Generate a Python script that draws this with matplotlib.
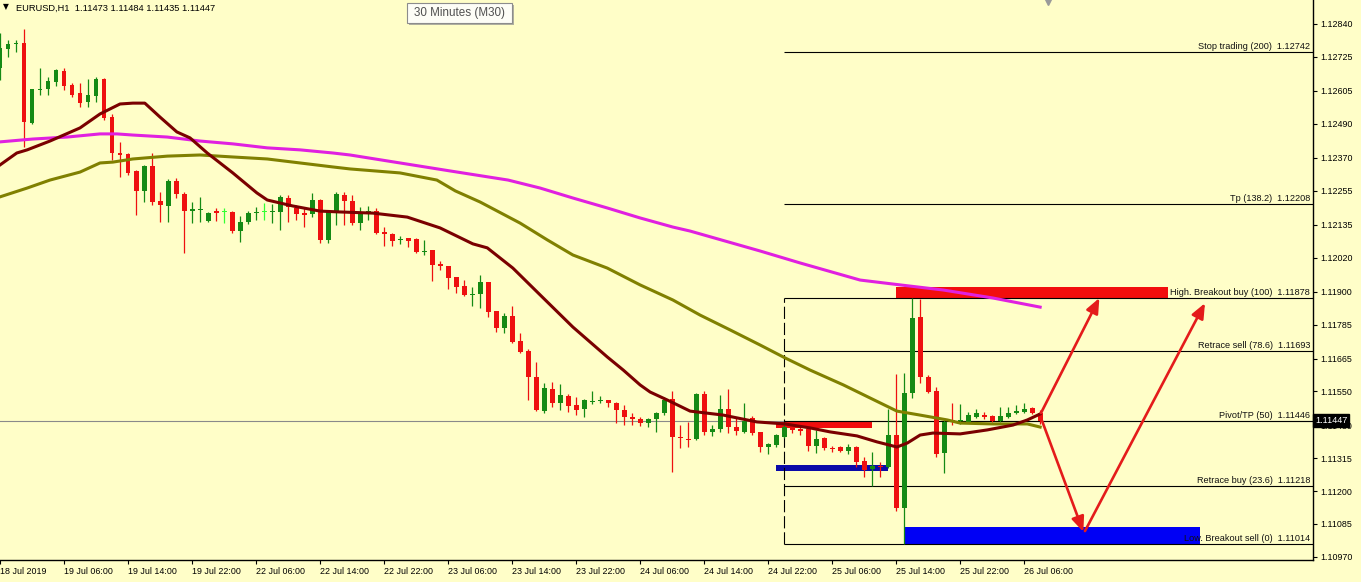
import numpy as np
import matplotlib
matplotlib.use('Agg')
import matplotlib.pyplot as plt
from matplotlib.patches import Rectangle
from matplotlib import transforms as mtrans

plt.rcParams['font.family'] = ['Liberation Sans', 'DejaVu Sans']

# ---- data: EURUSD H1 bars, 18 Jul 22:00 .. 26 Jul 08:00 (bar index = x position)
opens = [1.12685, 1.12752, 1.12770, 1.12773, 1.12492, 1.12608, 1.12612, 1.12636, 1.12675, 1.12626,
         1.12598, 1.12566, 1.12587, 1.12647, 1.12513, 1.12387, 1.12384, 1.12324, 1.12254, 1.12341,
         1.12219, 1.12201, 1.12289, 1.12243, 1.12183, 1.12187, 1.12148, 1.12183, 1.12180, 1.12180,
         1.12113, 1.12145, 1.12176, 1.12180, 1.12180, 1.12180, 1.12229, 1.12194, 1.12176, 1.12173,
         1.12222, 1.12082, 1.12180, 1.12240, 1.12219, 1.12141, 1.12180, 1.12183, 1.12110, 1.12103,
         1.12082, 1.12089, 1.12085, 1.12040, 1.12047, 1.11997, 1.11990, 1.11952, 1.11920, 1.11889,
         1.11892, 1.11934, 1.11832, 1.11773, 1.11815, 1.11727, 1.11692, 1.11601, 1.11481, 1.11559,
         1.11510, 1.11534, 1.11502, 1.11488, 1.11513, 1.11517, 1.11520, 1.11510, 1.11485, 1.11460,
         1.11453, 1.11439, 1.11453, 1.11474, 1.11524, 1.11390, 1.11383, 1.11383, 1.11541, 1.11408,
         1.11418, 1.11488, 1.11425, 1.11408, 1.11457, 1.11408, 1.11355, 1.11362, 1.11390, 1.11422,
         1.11418, 1.11418, 1.11359, 1.11387, 1.11352, 1.11355, 1.11341, 1.11355, 1.11306, 1.11278,
         1.11288, 1.11285, 1.11397, 1.11141, 1.11545, 1.11811, 1.11601, 1.11552, 1.11334, 1.11450,
         1.11446, 1.11443, 1.11460, 1.11467, 1.11464, 1.11446, 1.11460, 1.11474, 1.11478, 1.11492,
         1.11473]
highs = [1.12808, 1.12784, 1.12784, 1.12822, 1.12612, 1.12685, 1.12654, 1.12682, 1.12685, 1.12633,
         1.12633, 1.12647, 1.12654, 1.12650, 1.12524, 1.12426, 1.12387, 1.12327, 1.12345, 1.12387,
         1.12250, 1.12296, 1.12299, 1.12250, 1.12215, 1.12233, 1.12180, 1.12194, 1.12194, 1.12183,
         1.12166, 1.12183, 1.12197, 1.12212, 1.12208, 1.12240, 1.12240, 1.12204, 1.12194, 1.12247,
         1.12226, 1.12187, 1.12250, 1.12250, 1.12240, 1.12197, 1.12201, 1.12194, 1.12127, 1.12106,
         1.12096, 1.12089, 1.12089, 1.12082, 1.12047, 1.12008, 1.11990, 1.11952, 1.11941, 1.11917,
         1.11959, 1.11934, 1.11832, 1.11825, 1.11850, 1.11755, 1.11699, 1.11653, 1.11580, 1.11583,
         1.11576, 1.11541, 1.11531, 1.11524, 1.11552, 1.11534, 1.11520, 1.11513, 1.11502, 1.11474,
         1.11460, 1.11457, 1.11478, 1.11531, 1.11552, 1.11432, 1.11443, 1.11545, 1.11552, 1.11432,
         1.11538, 1.11559, 1.11457, 1.11510, 1.11464, 1.11408, 1.11369, 1.11401, 1.11443, 1.11425,
         1.11425, 1.11425, 1.11415, 1.11390, 1.11359, 1.11359, 1.11366, 1.11359, 1.11320, 1.11338,
         1.11302, 1.11488, 1.11611, 1.11615, 1.11878, 1.11876, 1.11608, 1.11566, 1.11450, 1.11510,
         1.11506, 1.11478, 1.11488, 1.11478, 1.11467, 1.11495, 1.11495, 1.11502, 1.11510, 1.11495,
         1.11484]
lows = [1.12643, 1.12724, 1.12741, 1.12408, 1.12489, 1.12591, 1.12591, 1.12622, 1.12608, 1.12584,
        1.12548, 1.12548, 1.12566, 1.12503, 1.12362, 1.12303, 1.12310, 1.12169, 1.12215, 1.12204,
        1.12145, 1.12145, 1.12229, 1.12036, 1.12141, 1.12145, 1.12145, 1.12148, 1.12141, 1.12106,
        1.12075, 1.12138, 1.12152, 1.12152, 1.12141, 1.12117, 1.12145, 1.12152, 1.12127, 1.12162,
        1.12071, 1.12071, 1.12134, 1.12134, 1.12134, 1.12117, 1.12152, 1.12103, 1.12061, 1.12061,
        1.12068, 1.12057, 1.12036, 1.12029, 1.11938, 1.11976, 1.11910, 1.11896, 1.11885, 1.11850,
        1.11843, 1.11811, 1.11759, 1.11755, 1.11720, 1.11685, 1.11520, 1.11481, 1.11474, 1.11495,
        1.11485, 1.11478, 1.11467, 1.11460, 1.11506, 1.11510, 1.11495, 1.11439, 1.11432, 1.11432,
        1.11429, 1.11425, 1.11408, 1.11467, 1.11267, 1.11352, 1.11355, 1.11380, 1.11397, 1.11394,
        1.11408, 1.11404, 1.11397, 1.11404, 1.11397, 1.11338, 1.11331, 1.11355, 1.11387, 1.11404,
        1.11397, 1.11341, 1.11334, 1.11345, 1.11338, 1.11338, 1.11331, 1.11285, 1.11250, 1.11218,
        1.11250, 1.11281, 1.11130, 1.11014, 1.11527, 1.11580, 1.11545, 1.11320, 1.11264, 1.11432,
        1.11436, 1.11439, 1.11457, 1.11453, 1.11443, 1.11443, 1.11457, 1.11471, 1.11474, 1.11471,
        1.11435]
closes = [1.12755, 1.12770, 1.12773, 1.12496, 1.12612, 1.12612, 1.12640, 1.12678, 1.12622, 1.12591,
          1.12562, 1.12591, 1.12647, 1.12510, 1.12387, 1.12380, 1.12317, 1.12254, 1.12341, 1.12215,
          1.12204, 1.12289, 1.12243, 1.12183, 1.12190, 1.12190, 1.12176, 1.12176, 1.12180, 1.12113,
          1.12145, 1.12176, 1.12180, 1.12180, 1.12183, 1.12233, 1.12197, 1.12173, 1.12169, 1.12222,
          1.12082, 1.12180, 1.12243, 1.12219, 1.12141, 1.12180, 1.12183, 1.12106, 1.12103, 1.12078,
          1.12085, 1.12078, 1.12040, 1.12043, 1.11994, 1.11990, 1.11948, 1.11917, 1.11889, 1.11892,
          1.11934, 1.11829, 1.11773, 1.11815, 1.11724, 1.11688, 1.11601, 1.11485, 1.11562, 1.11510,
          1.11538, 1.11499, 1.11485, 1.11520, 1.11517, 1.11520, 1.11510, 1.11485, 1.11460, 1.11453,
          1.11439, 1.11453, 1.11474, 1.11520, 1.11390, 1.11387, 1.11380, 1.11541, 1.11408, 1.11418,
          1.11488, 1.11425, 1.11411, 1.11446, 1.11404, 1.11355, 1.11366, 1.11397, 1.11425, 1.11415,
          1.11411, 1.11359, 1.11383, 1.11352, 1.11348, 1.11341, 1.11355, 1.11302, 1.11274, 1.11288,
          1.11285, 1.11397, 1.11141, 1.11545, 1.11808, 1.11601, 1.11548, 1.11331, 1.11443, 1.11446,
          1.11450, 1.11467, 1.11474, 1.11460, 1.11446, 1.11464, 1.11474, 1.11481, 1.11488, 1.11474,
          1.11447]

# moving averages (bar position, price)
ma_fast_x = [0, 2.1, 3.4, 6.25, 10, 12.5, 15, 16.6, 18.1, 20, 22.1, 23.75, 25.9, 29.1, 32.1, 33.4,
             36.6, 40, 42.5, 46.6, 50.9, 55, 59.1, 60.9, 64.1, 67.5, 71.6, 75.9, 77.9, 80, 81.25,
             83.4, 86.25, 90.4, 94.6, 98.1, 101.25, 103.75, 107.1, 109.6, 112.1, 113.4, 115,
             116.6, 120, 123.4, 126.6, 128.4, 130]
ma_fast_y = [1.12345, 1.12387, 1.12398, 1.12429, 1.12475, 1.12524, 1.12559, 1.12562, 1.12562,
             1.12513, 1.12461, 1.12440, 1.12387, 1.12317, 1.12247, 1.12222, 1.12201, 1.12183,
             1.12180, 1.12176, 1.12162, 1.12124, 1.12068, 1.12054, 1.11983, 1.11889, 1.11776,
             1.11671, 1.11625, 1.11573, 1.11548, 1.11520, 1.11481, 1.11467, 1.11443, 1.11436,
             1.11422, 1.11408, 1.11394, 1.11373, 1.11355, 1.11369, 1.11397, 1.11404, 1.11401,
             1.11415, 1.11432, 1.11450, 1.11471]
ma_mid_x = [0, 3.4, 6.25, 10, 12.5, 14.1, 16.6, 20.9, 25, 29.1, 33.4, 37.5, 41.6, 43.75, 50, 54.6,
            56.9, 60, 65, 68.4, 71.6, 75.9, 80, 84.1, 87.5, 91.25, 95, 98.1, 101.25, 105.4,
            108.75, 112.1, 115, 118.4, 120, 124.1, 128.4, 130]
ma_mid_y = [1.12233, 1.12264, 1.12292, 1.12320, 1.12352, 1.12355, 1.12366, 1.12376, 1.12380,
            1.12373, 1.12366, 1.12352, 1.12338, 1.12331, 1.12317, 1.12292, 1.12254, 1.12215,
            1.12141, 1.12082, 1.12029, 1.11983, 1.11924, 1.11871, 1.11818, 1.11766, 1.11713,
            1.11668, 1.11625, 1.11573, 1.11527, 1.11481, 1.11467, 1.11450, 1.11439, 1.11436,
            1.11436, 1.11425]
ma_slow_x = [0, 4.1, 8.4, 12.5, 14.6, 16.6, 20.9, 25, 29.1, 33.4, 37.5, 41.6, 43.75, 50, 56.25,
             63.5, 67.5, 71.6, 75.9, 80, 84.1, 86.25, 95, 100, 107.5, 112.5, 117.9, 124.1, 130]
ma_slow_y = [1.12426, 1.12436, 1.12443, 1.12454, 1.12454, 1.12450, 1.12443, 1.12429, 1.12419,
             1.12405, 1.12398, 1.12387, 1.12380, 1.12352, 1.12324, 1.12292, 1.12264, 1.12229,
             1.12194, 1.12159, 1.12127, 1.12113, 1.12043, 1.12001, 1.11941, 1.11924, 1.11906,
             1.11878, 1.11846]

# fibonacci levels
fib_names = ['Stop trading (200)', 'Tp (138.2)', 'High. Breakout buy (100)', 'Retrace sell (78.6)',
             'Pivot/TP (50)', 'Retrace buy (23.6)', 'Low. Breakout sell (0)']
fib_values = [1.12742, 1.12208, 1.11878, 1.11693, 1.11446, 1.11218, 1.11014]
fib_start = 98

# zones: (bar from, bar to, price low, price high, colour)
zones = [(97, 109, 1.11422, 1.11443, '#f20d0d'),
         (97, 111, 1.11271, 1.11292, '#0a0aa8'),
         (112, 146, 1.11875, 1.11917, '#f20d0d'),
         (113, 150, 1.11014, 1.11074, '#0000f5')]
# arrows: (bar from, price from, bar to, price to)
arrows = [(130.1, 1.11474, 137.4, 1.11878),
          (130.25, 1.11446, 135.4, 1.11057),
          (135.6, 1.11060, 150.6, 1.11860)]

bid = 1.11447
ytick_vals = [1.12840, 1.12725, 1.12605, 1.12490, 1.12370, 1.12255, 1.12135, 1.12020, 1.11900,
              1.11785, 1.11665, 1.11550, 1.11430, 1.11315, 1.11200, 1.11085, 1.10970]
xtick_bars = [0, 8, 16, 24, 32, 40, 48, 56, 64, 72, 80, 88, 96, 104, 112, 120, 128]
xtick_labels = ['18 Jul 2019', '19 Jul 06:00', '19 Jul 14:00', '19 Jul 22:00', '22 Jul 06:00',
                '22 Jul 14:00', '22 Jul 22:00', '23 Jul 06:00', '23 Jul 14:00', '23 Jul 22:00',
                '24 Jul 06:00', '24 Jul 14:00', '24 Jul 22:00', '25 Jul 06:00', '25 Jul 14:00',
                '25 Jul 22:00', '26 Jul 06:00']

BG = '#fffec8'
W, H = 1361, 582
fig = plt.figure(figsize=(W / 100, H / 100), dpi=100)
fig.patch.set_facecolor(BG)
ax = fig.add_axes([0, 22 / H, 1313 / W, 560 / H])
ax.set_facecolor(BG)
ax.set_xlim(0, 164.1)
ax.set_ylim(1.109584, 1.12924)

o = np.array(opens); c = np.array(closes); hi = np.array(highs); lo = np.array(lows)
x = np.arange(len(o))
up = c > o
dn = c < o
doji = c == o
col = np.where(up, '#158a15', np.where(dn, '#ee1010', '#33ff33'))

# zones behind everything
for x0, x1, p0, p1, zc in zones:
    ax.add_patch(Rectangle((x0, p0), x1 - x0, p1 - p0, color=zc, lw=0, zorder=1))

# bid line and fib lines
ax.axhline(bid, color='#8a8a8a', lw=0.8, zorder=1.2)
ax.hlines(fib_values, fib_start, 164.1, color='black', lw=0.8, zorder=1.5)
ax.vlines(fib_start, fib_values[-1], fib_values[2], color='black', lw=0.8,
          linestyles=(0, (11, 3.5)), zorder=1.5)
for name, v in zip(fib_names, fib_values):
    ax.text(163.75, v + 0.00004, f'{name}  {v:.5f}', ha='right', va='bottom',
            fontsize=6.6, color='#111111', zorder=6)

# candles
ax.vlines(x, lo, hi, colors=col, lw=0.9, zorder=3)
body = np.maximum(np.abs(c - o), 0.00004)
ax.bar(x, body, bottom=np.minimum(o, c), width=0.62, color=col, lw=0, zorder=3.1)

# moving averages
ax.plot(ma_slow_x, ma_slow_y, color='#e020e0', lw=2.2, zorder=4)
ax.plot(ma_mid_x, ma_mid_y, color='#808000', lw=2.2, zorder=4)
ax.plot(ma_fast_x, ma_fast_y, color='#7a0000', lw=2.2, zorder=4.2)

# arrows
for xa, ya, xb, yb in arrows:
    ax.annotate('', xy=(xb, yb), xytext=(xa, ya), zorder=5,
                arrowprops=dict(arrowstyle='-|>,head_length=0.9,head_width=0.38',
                                color='#e41b1b', lw=1.9, shrinkA=0, shrinkB=0))

# axes styling
for s in ['top', 'left']:
    ax.spines[s].set_visible(False)
ax.spines['right'].set_linewidth(1.0)
ax.spines['bottom'].set_linewidth(1.0)
ax.yaxis.tick_right()
ax.set_yticks(ytick_vals)
ax.set_yticklabels([f'{v:.5f}' for v in ytick_vals])
ax.set_xticks(xtick_bars)
ax.set_xticklabels(xtick_labels)
for lab in ax.get_xticklabels():
    lab.set_ha('left')
ax.tick_params(axis='both', labelsize=6.4, length=3, width=0.8, pad=2, direction='out')

# current price box
tr = mtrans.blended_transform_factory(ax.transAxes, ax.transData)
ax.text(1.0015, bid, f'{bid:.5f}', transform=tr, ha='left', va='center', fontsize=6.6,
        color='white', zorder=10, clip_on=False,
        bbox=dict(boxstyle='square,pad=0.22', fc='black', ec='black'))

# chart shift marker
ax.plot([131], [1.0], transform=mtrans.blended_transform_factory(ax.transData, ax.transAxes),
        marker='v', ms=7, color='#9a9a9a', clip_on=False, zorder=10)

# header
fig.text(3 / W, 1 - 7 / H, '\u25bc', fontsize=5.5, family='DejaVu Sans', va='center', ha='left')
fig.text(16 / W, 1 - 8 / H, 'EURUSD,H1  1.11473 1.11484 1.11435 1.11447', fontsize=6.7,
         va='center', ha='left')

# timeframe tooltip
fig.patches.append(Rectangle((409 / W, 1 - 25 / H), 105 / W, 20 / H, transform=fig.transFigure,
                             fc='#b0b0a0', ec='none', zorder=20))
fig.patches.append(Rectangle((407 / W, 1 - 23 / H), 105 / W, 20 / H, transform=fig.transFigure,
                             fc='#fdfdf6', ec='#8c8c8c', lw=0.8, zorder=21))
fig.text(459.5 / W, 1 - 13 / H, '30 Minutes (M30)', fontsize=8.4, color='#505050',
         ha='center', va='center', zorder=22)

fig.savefig('out.png', dpi=100, facecolor=BG)
